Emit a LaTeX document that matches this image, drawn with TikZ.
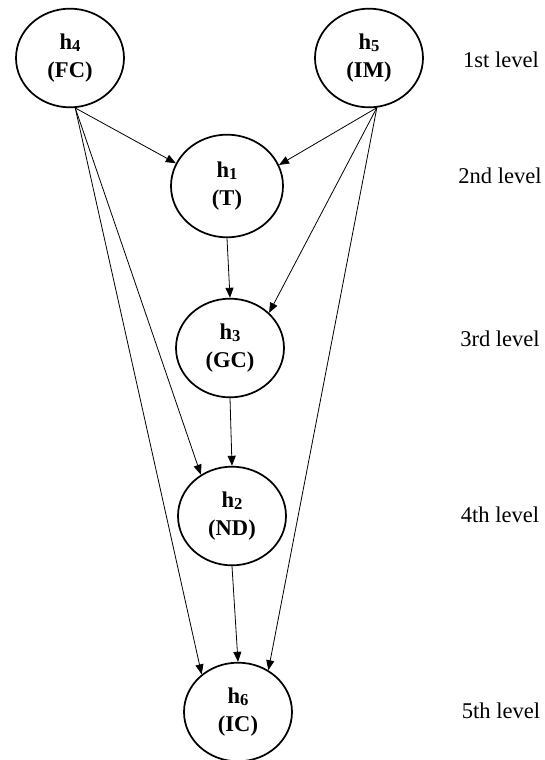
\documentclass[tikz,border=0pt]{standalone}
\usepackage{fontspec}
\setmainfont{Liberation Serif}
\usepackage{tikz}
\usetikzlibrary{shapes.geometric, arrows.meta}

\newcommand{\hsub}[1]{\raisebox{-1.6pt}{\fontsize{12.5}{12.5}\selectfont #1}}

\begin{document}
\begin{tikzpicture}[
  x=0.75pt, y=-0.75pt,
  every node/.style={font=\fontsize{16.9}{20.5}\selectfont},
  hyp/.style={ellipse, draw, line width=1.3pt, minimum width=81pt, minimum height=74pt,
    inner sep=0pt, align=center, font=\fontsize{16.9}{21}\selectfont\bfseries},
  arr/.style={-{Triangle[length=7.5pt, width=6pt]}, line width=0.6pt},
  lvl/.style={anchor=base},
]
  \useasboundingbox (0,0) rectangle (544,760);

  \node[hyp] (h4) at (70,58)  {h\hsub{4}\\(FC)};
  \node[hyp] (h5) at (369,58) {h\hsub{5}\\(IM)};
  \node[hyp, minimum width=84pt, minimum height=77pt] (h1) at (227,186) {h\hsub{1}\\(T)};
  \node[hyp] (h3) at (230,348) {h\hsub{3}\\(GC)};
  \node[hyp] (h2) at (232,516) {h\hsub{2}\\(ND)};
  \node[hyp] (h6) at (238,712) {h\hsub{6}\\(IC)};

  \node[lvl] (lvl1) at (501,67)  {1st level};
  \node[lvl] (lvl2) at (500,183) {2nd level};
  \node[lvl] (lvl3) at (500,346) {3rd level};
  \node[lvl] (lvl4) at (500,522) {4th level};
  \node[lvl] (lvl5) at (501,718) {5th level};

  \draw[arr] (h4.-84) -- (h1.156);
  \draw[arr] (h4.-84) -- (h2.127);
  \draw[arr] (h4.-84) -- (h6.134);
  \draw[arr] (h5.-81) -- (h1.22);
  \draw[arr] (h5.-81) -- (h3.42);
  \draw[arr] (h5.-81) -- (h6.54);
  \draw[arr] (h1.south) -- (h3.north);
  \draw[arr] (h3.south) -- (h2.north);
  \draw[arr] (h2.south) -- (h6.north);
\end{tikzpicture}
\end{document}
